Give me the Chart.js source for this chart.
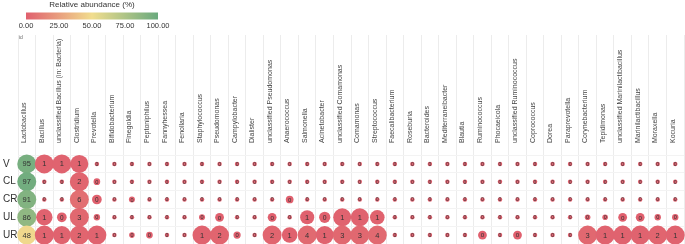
<!DOCTYPE html>
<html>
<head>
<meta charset="utf-8">
<script src="https://cdn.jsdelivr.net/npm/chart.js@4.4.1/dist/chart.umd.min.js"></script>
<style>
  html, body { margin: 0; padding: 0; background: #fff; }
  #wrap { width: 685px; height: 244px; }
</style>
</head>
<body>
<div id="wrap"><canvas id="abundance-chart" width="685" height="244"></canvas></div>
<script>
// genera along the top (columns)
const genera = [
    'Lactobacillus', 'Bacillus', 'unclassified Bacillus (in: Bacteria)', 'Clostridium', 'Prevotella',
    'Bifidobacterium', 'Finegoldia', 'Peptoniphilus', 'Fannyhessea', 'Fenollaria',
    'Staphylococcus', 'Pseudomonas', 'Campylobacter', 'Dialister', 'unclassified Pseudomonas',
    'Anaerococcus', 'Salmonella', 'Acinetobacter', 'unclassified Comamonas', 'Comamonas',
    'Streptococcus', 'Faecalibacterium', 'Roseburia', 'Bacteroides', 'Mediterraneibacter',
    'Blautia', 'Ruminococcus', 'Phocaeicola', 'unclassified Ruminococcus', 'Coprococcus',
    'Dorea', 'Paraprevotella', 'Corynebacterium', 'Tepidimonas', 'unclassified Marinilactibacillus',
    'Marinilactibacillus', 'Moraxella', 'Kocuria'
];

// sample sites (rows)
const sites = ['V', 'CL', 'CR', 'UL', 'UR'];

// relative abundance (%) per site, same order as genera
const abundanceV = [
    95, 1.3, 1.3, 1.0, 0.01, 0.01, 0.01, 0.01, 0.01, 0.01,
    0.01, 0.01, 0.01, 0.01, 0.01, 0.01, 0.01, 0.01, 0.01, 0.01,
    0.01, 0.01, 0.01, 0.01, 0.01, 0.01, 0.01, 0.01, 0.01, 0.01,
    0.01, 0.01, 0.01, 0.01, 0.01, 0.01, 0.01, 0.01
];
const abundanceCL = [
    97, 0.01, 0.01, 2, 0.06, 0.01, 0.01, 0.01, 0.01, 0.01,
    0.01, 0.01, 0.01, 0.01, 0.01, 0.01, 0.01, 0.01, 0.01, 0.01,
    0.01, 0.01, 0.01, 0.01, 0.01, 0.01, 0.01, 0.01, 0.01, 0.01,
    0.01, 0.01, 0.01, 0.01, 0.01, 0.01, 0.01, 0.01
];
const abundanceCR = [
    91, 0.01, 0.01, 6, 0.2, 0.01, 0.04, 0.01, 0.01, 0.01,
    0.01, 0.01, 0.01, 0.01, 0.01, 0.1, 0.01, 0.01, 0.01, 0.01,
    0.01, 0.01, 0.01, 0.01, 0.01, 0.01, 0.01, 0.01, 0.01, 0.01,
    0.01, 0.01, 0.01, 0.01, 0.01, 0.01, 0.01, 0.01
];
const abundanceUL = [
    86, 0.8, 0.2, 3, 0.05, 0.01, 0.01, 0.01, 0.01, 0.01,
    0.04, 0.15, 0.01, 0.01, 0.15, 0.01, 0.55, 0.3, 1.0, 1.0,
    0.6, 0.01, 0.01, 0.01, 0.01, 0.01, 0.01, 0.01, 0.01, 0.01,
    0.01, 0.01, 0.03, 0.03, 0.15, 0.15, 0.05, 0.05
];
const abundanceUR = [
    48, 1.2, 1.0, 2, 1.2, 0.01, 0.03, 0.06, 0.01, 0.01,
    1.2, 2, 0.08, 0.01, 2, 0.7, 4, 1.0, 3, 3,
    4, 0.01, 0.01, 0.01, 0.01, 0.01, 0.15, 0.01, 0.15, 0.01,
    0.01, 0.01, 3, 1.2, 1.2, 1.2, 2, 1.2
];
const abundanceBySite = [abundanceV, abundanceCL, abundanceCR, abundanceUL, abundanceUR];

// colour scale ticks
const scaleTicks = [0, 25, 50, 75, 100];

// red -> yellow -> green
const cLow = [224, 96, 110];
const cMid = [241, 221, 142];
const cHigh = [106, 170, 126];

function colorOf(v) {
    const t = Math.min(Math.max(v / 100, 0), 1);
    let a, b, f;
    if (t < 0.5) { a = cLow; b = cMid; f = t * 2; }
    else { a = cMid; b = cHigh; f = (t - 0.5) * 2; }
    const c = a.map((x, i) => Math.round(x + (b[i] - x) * f));
    return `rgb(${c[0]}, ${c[1]}, ${c[2]})`;
}

function sizeOf(v) {
    return Math.min(9.5, 1.5 + 7.5 * Math.sqrt(v));
}

const points = [];
abundanceBySite.forEach((row, i) => {
    row.forEach((v, j) => {
        points.push({ x: genera[j], y: sites[i], v: v });
    });
});

// colour bar legend + "id" marker
const colorBarPlugin = {
    id: 'colorBar',
    afterDraw(chart) {
        const ctx = chart.ctx;
        const x0 = 26, x1 = 158, y0 = 12.5, h = 7;
        ctx.save();
        const grad = ctx.createLinearGradient(x0, 0, x1, 0);
        grad.addColorStop(0, colorOf(0));
        grad.addColorStop(0.5, colorOf(50));
        grad.addColorStop(1, colorOf(100));
        ctx.fillStyle = grad;
        ctx.fillRect(x0, y0, x1 - x0, h);
        ctx.fillStyle = '#333';
        ctx.font = '8px "Liberation Sans", Arial, sans-serif';
        ctx.textAlign = 'center';
        ctx.textBaseline = 'middle';
        ctx.fillText('Relative abundance (%)', 92, 4.5);
        ctx.font = '7.5px "Liberation Sans", Arial, sans-serif';
        scaleTicks.forEach(t => {
            ctx.fillText(t.toFixed(2), x0 + (x1 - x0) * t / 100, 25.5);
        });
        ctx.fillStyle = '#666';
        ctx.font = '5px "Liberation Sans", Arial, sans-serif';
        ctx.textAlign = 'left';
        ctx.fillText('id', 19, 38);
        ctx.restore();
    }
};

// rounded value inside every bubble
const valueLabelPlugin = {
    id: 'valueLabels',
    afterDatasetsDraw(chart) {
        const ctx = chart.ctx;
        const meta = chart.getDatasetMeta(0);
        ctx.save();
        ctx.textAlign = 'center';
        ctx.textBaseline = 'middle';
        ctx.fillStyle = '#333';
        meta.data.forEach((el, i) => {
            const v = points[i].v;
            const fs = Math.min(7.5, 4 + sizeOf(v) * 0.5);
            ctx.font = `${fs}px "Liberation Sans", Arial, sans-serif`;
            ctx.fillText(String(Math.round(v)), el.x, el.y + 0.5);
        });
        ctx.restore();
    }
};

new Chart(document.getElementById('abundance-chart'), {
    type: 'bubble',
    data: {
        datasets: [{
            data: points,
            backgroundColor: ctx => colorOf(ctx.raw.v),
            radius: ctx => sizeOf(ctx.raw.v),
            borderWidth: 0,
            clip: false
        }]
    },
    options: {
        responsive: false,
        animation: false,
        events: [],
        layout: { autoPadding: false, padding: { top: 30, left: 3, right: 1, bottom: 0 } },
        scales: {
            x: {
                type: 'category',
                labels: genera,
                position: 'top',
                offset: true,
                afterFit(scale) {
                    scale.height = 125;
                    scale.paddingLeft = 0;
                    scale.paddingRight = 0;
                },
                border: { display: false },
                grid: {
                    offset: true,
                    color: '#ececec',
                    tickLength: 120,
                    tickColor: '#ececec'
                },
                ticks: {
                    autoSkip: false,
                    minRotation: 90,
                    maxRotation: 90,
                    padding: -108,
                    labelOffset: 6,
                    color: '#444',
                    font: { size: 7, family: '"Liberation Sans", Arial, sans-serif' }
                }
            },
            y: {
                type: 'category',
                labels: sites,
                offset: true,
                afterFit(scale) {
                    scale.width = 15;
                    scale.paddingTop = 0;
                    scale.paddingBottom = 0;
                },
                border: { display: false },
                grid: {
                    offset: true,
                    color: '#f3f3f3',
                    drawTicks: false
                },
                ticks: {
                    crossAlign: 'far',
                    padding: 3,
                    color: '#333',
                    font: { size: 10, family: '"Liberation Sans", Arial, sans-serif' }
                }
            }
        },
        plugins: {
            legend: { display: false },
            tooltip: { enabled: false }
        }
    },
    plugins: [colorBarPlugin, valueLabelPlugin]
});
</script>
</body>
</html>
